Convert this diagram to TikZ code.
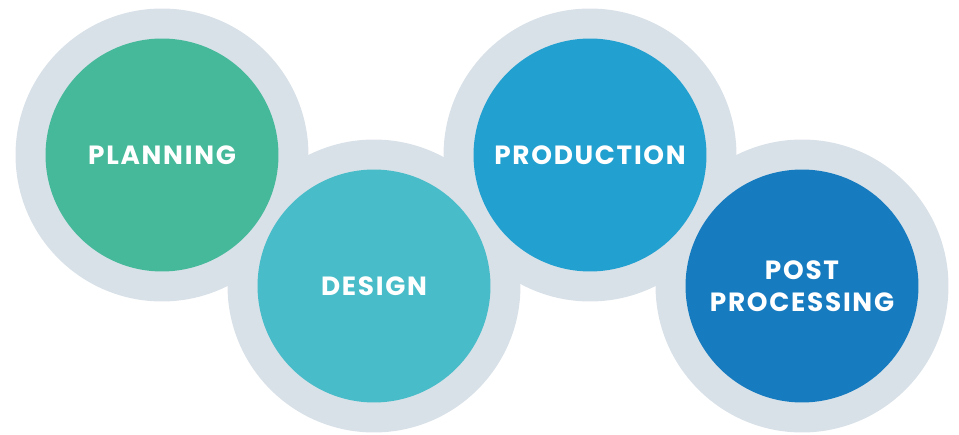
\documentclass[tikz,border=0pt]{standalone}
\usepackage{fontspec}
\setmainfont{Poppins}[LetterSpace=6.5]
\usetikzlibrary{positioning}
\definecolor{ringgray}{HTML}{D9E1E8}
\definecolor{planninggreen}{HTML}{47B99B}
\definecolor{designteal}{HTML}{48BCC8}
\definecolor{productionblue}{HTML}{22A0D0}
\definecolor{postblue}{HTML}{177BC0}
\tikzstyle{ring} = [circle, fill=ringgray, minimum size=5.86cm, inner sep=0pt]
\tikzstyle{stage} = [circle, minimum size=4.66cm, inner sep=0pt, text=white, align=center, font=\bfseries\fontsize{15pt}{18.2pt}\selectfont]

\begin{document}
\begin{tikzpicture}[x=0.02cm, y=-0.02cm]
  \useasboundingbox (0,0) rectangle (959,435);
  \node (ring1) [ring] at (162,155) {};
  \node (ring2) [ring] at (374,286) {};
  \node (ring3) [ring] at (590,155) {};
  \node (ring4) [ring] at (802,286) {};
  \node (planning) [stage, fill=planninggreen] at (ring1) {PLANNING};
  \node (design) [stage, fill=designteal] at (ring2) {DESIGN};
  \node (production) [stage, fill=productionblue] at (ring3) {PRODUCTION};
  \node (post) [stage, fill=postblue] at (ring4) {POST\\PROCESSING};
\end{tikzpicture}
\end{document}
